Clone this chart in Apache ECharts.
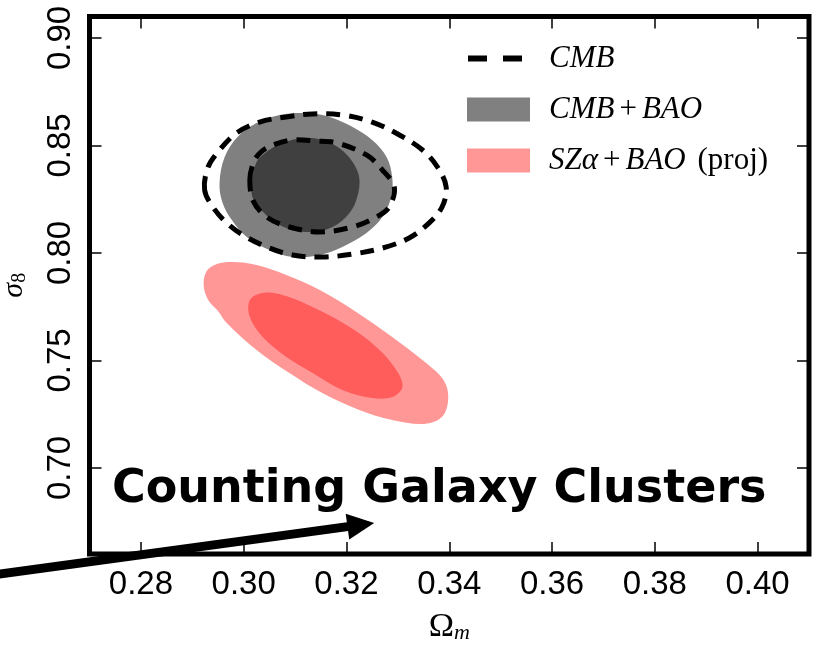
<!DOCTYPE html>
<html>
<head>
<meta charset="utf-8">
<script src="https://cdn.jsdelivr.net/npm/echarts@6/dist/echarts.min.js"></script>
<style>
  html, body { margin: 0; padding: 0; background: #ffffff; }
  #chart { width: 817px; height: 650px; }
</style>
</head>
<body>
<div id="chart"></div>
<script>
// Axis ticks
const xTicks = [0.28, 0.30, 0.32, 0.34, 0.36, 0.38, 0.40];
const yTicks = [0.70, 0.75, 0.80, 0.85, 0.90];

// Contour outlines in (Omega_m, sigma_8)
const cmbBaoOuter = [
  [0.2953, 0.8326], [0.2963, 0.8447], [0.2988, 0.8540], [0.3025, 0.8605], [0.3070, 0.8642],
  [0.3122, 0.8651], [0.3167, 0.8633], [0.3212, 0.8586], [0.3250, 0.8526], [0.3278, 0.8447],
  [0.3289, 0.8353], [0.3287, 0.8260], [0.3270, 0.8167], [0.3239, 0.8093], [0.3192, 0.8028],
  [0.3148, 0.7991], [0.3095, 0.7981], [0.3050, 0.8014], [0.3006, 0.8074], [0.2977, 0.8153],
  [0.2959, 0.8233]
];
const cmbBaoInner = [
  [0.3016, 0.8326], [0.3025, 0.8423], [0.3047, 0.8475], [0.3076, 0.8512], [0.3115, 0.8535],
  [0.3153, 0.8526], [0.3186, 0.8488], [0.3212, 0.8423], [0.3225, 0.8349], [0.3221, 0.8260],
  [0.3206, 0.8186], [0.3173, 0.8121], [0.3134, 0.8098], [0.3095, 0.8107], [0.3060, 0.8144],
  [0.3031, 0.8209], [0.3017, 0.8260]
];
const cmbOuter = [
  [0.2924, 0.8293], [0.2930, 0.8395], [0.2950, 0.8470], [0.2986, 0.8558], [0.3031, 0.8609],
  [0.3083, 0.8633], [0.3134, 0.8647], [0.3192, 0.8642], [0.3250, 0.8609], [0.3303, 0.8549],
  [0.3348, 0.8479], [0.3377, 0.8400], [0.3394, 0.8307], [0.3386, 0.8214], [0.3361, 0.8140],
  [0.3322, 0.8070], [0.3270, 0.8023], [0.3212, 0.7995], [0.3153, 0.7981], [0.3095, 0.7991],
  [0.3045, 0.8028], [0.2998, 0.8084], [0.2967, 0.8140], [0.2940, 0.8214]
];
const cmbInner = [
  [0.3012, 0.8340], [0.3020, 0.8426], [0.3035, 0.8473], [0.3060, 0.8505], [0.3095, 0.8526],
  [0.3140, 0.8521], [0.3181, 0.8512], [0.3239, 0.8456], [0.3270, 0.8386], [0.3293, 0.8307],
  [0.3283, 0.8214], [0.3258, 0.8167], [0.3212, 0.8121], [0.3148, 0.8098], [0.3089, 0.8121],
  [0.3045, 0.8167], [0.3019, 0.8240]
];
const szOuter = [
  [0.2922, 0.7851], [0.2928, 0.7916], [0.2948, 0.7949], [0.2979, 0.7958], [0.3025, 0.7944],
  [0.3083, 0.7898], [0.3148, 0.7828], [0.3219, 0.7726], [0.3289, 0.7609], [0.3355, 0.7488],
  [0.3390, 0.7405], [0.3398, 0.7320], [0.3386, 0.7238], [0.3352, 0.7205], [0.3289, 0.7223],
  [0.3225, 0.7270], [0.3153, 0.7349], [0.3089, 0.7442], [0.3025, 0.7549], [0.2967, 0.7674],
  [0.2950, 0.7730], [0.2931, 0.7781]
];
const szInner = [
  [0.3012, 0.7781], [0.3037, 0.7814], [0.3076, 0.7805], [0.3134, 0.7749], [0.3200, 0.7665],
  [0.3258, 0.7563], [0.3297, 0.7456], [0.3309, 0.7377], [0.3289, 0.7330], [0.3250, 0.7326],
  [0.3192, 0.7363], [0.3134, 0.7442], [0.3083, 0.7516], [0.3037, 0.7609], [0.3012, 0.7702]
];

// Annotation arrow (data coordinates) and caption
const arrowTail = [0.2505, 0.6500];
const arrowTip = [0.3254, 0.6744];
const caption = 'Counting Galaxy Clusters';

const seriesNames = ['CMB', 'CMB+BAO', 'SZα+BAO (proj)'];
const legendRich = {
  'CMB': '{g|}{i|CMB}',
  'CMB+BAO': '{g|}{i|CMB}{r|+}{i|BAO}',
  'SZα+BAO (proj)': '{g|}{i|SZα}{r|+}{i|BAO}{u| (proj)}'
};

function filledContour(name, pts, color) {
  return {
    type: 'custom', name: name, data: pts, encode: { x: 0, y: 1 },
    itemStyle: { color: color }, silent: true,
    renderItem: function (params, api) {
      if (params.dataIndex !== 0) return null;
      return {
        type: 'polygon',
        shape: { points: pts.map(function (p) { return api.coord(p); }), smooth: 0.35 },
        style: { fill: color, stroke: null }
      };
    }
  };
}

function dashedContour(name, pts) {
  return {
    type: 'custom', name: name, data: pts, encode: { x: 0, y: 1 },
    itemStyle: { color: '#000000' }, silent: true, z: 3,
    renderItem: function (params, api) {
      if (params.dataIndex !== 0) return null;
      return {
        type: 'polygon',
        shape: { points: pts.map(function (p) { return api.coord(p); }), smooth: 0.35 },
        style: { fill: null, stroke: '#000000', lineWidth: 5, lineDash: [14, 9], lineCap: 'butt' }
      };
    }
  };
}

const tickLabelFont = { fontFamily: 'Liberation Sans', fontSize: 33, color: '#000' };

function tickOnlyAxis(extra, ticks) {
  return Object.assign({
    type: 'value', axisLine: { show: false }, splitLine: { show: false },
    axisLabel: { show: false },
    axisTick: { show: true, inside: true, length: 12, customValues: ticks, lineStyle: { color: '#000', width: 1.5 } }
  }, extra);
}

const chart = echarts.init(document.getElementById('chart'), null, { renderer: 'canvas' });

chart.setOption({
  animation: false,
  backgroundColor: '#ffffff',
  grid: {
    left: 89.5, right: 8, top: 16.5, bottom: 96,
    outerBoundsMode: 'none', containLabel: false,
    show: true, borderColor: '#000', borderWidth: 5, backgroundColor: 'transparent'
  },
  xAxis: [
    {
      type: 'value', min: 0.27, max: 0.41, position: 'bottom',
      axisLine: { show: false }, splitLine: { show: false },
      axisTick: { show: true, inside: true, length: 12, customValues: xTicks, lineStyle: { color: '#000', width: 1.5 } },
      axisLabel: Object.assign({ margin: 14, customValues: xTicks, formatter: function (v) { return v.toFixed(2); } }, tickLabelFont),
      name: '{o|Ω}{m|m}', nameLocation: 'middle', nameGap: 56,
      nameTextStyle: {
        rich: {
          o: { fontFamily: 'Liberation Serif', fontSize: 34, lineHeight: 34, color: '#000' },
          m: { fontFamily: 'Liberation Serif', fontStyle: 'italic', fontSize: 22, lineHeight: 14, verticalAlign: 'bottom', color: '#000' }
        }
      }
    },
    tickOnlyAxis({ min: 0.27, max: 0.41, position: 'top' }, xTicks)
  ],
  yAxis: [
    {
      type: 'value', min: 0.66, max: 0.91, position: 'left',
      axisLine: { show: false }, splitLine: { show: false },
      axisTick: { show: true, inside: true, length: 12, customValues: yTicks, lineStyle: { color: '#000', width: 1.5 } },
      axisLabel: Object.assign({ margin: 12, rotate: 90, customValues: yTicks, formatter: function (v) { return v.toFixed(2); } }, tickLabelFont),
      name: '{s|σ}{n|8}', nameLocation: 'middle', nameRotate: 90, nameGap: 60,
      nameTextStyle: {
        rich: {
          s: { fontFamily: 'Liberation Serif', fontStyle: 'italic', fontSize: 30, lineHeight: 30, color: '#000' },
          n: { fontFamily: 'Liberation Serif', fontSize: 20, lineHeight: 12, verticalAlign: 'bottom', color: '#000' }
        }
      }
    },
    tickOnlyAxis({ min: 0.66, max: 0.91, position: 'right' }, yTicks)
  ],
  legend: {
    orient: 'vertical', left: 467, top: 43, padding: 0,
    itemWidth: 63, itemHeight: 24, itemGap: 20, selectedMode: false,
    data: [
      { name: seriesNames[0], icon: 'path://M0,0L0,0M63,24L63,24M1,9h19v6h-19zM36,9h19v6h-19z' },
      { name: seriesNames[1], icon: 'rect' },
      { name: seriesNames[2], icon: 'rect' }
    ],
    formatter: function (name) { return legendRich[name]; },
    textStyle: {
      color: '#000',
      rich: {
        g: { width: 14 },
        i: { fontFamily: 'Liberation Serif', fontStyle: 'italic', fontSize: 31, color: '#000' },
        r: { fontFamily: 'Liberation Serif', fontSize: 31, color: '#000', padding: [0, 5, 0, 5] },
        u: { fontFamily: 'Liberation Serif', fontSize: 31, color: '#000', padding: [0, 0, 0, 4] }
      }
    }
  },
  series: [
    filledContour(seriesNames[1], cmbBaoOuter, '#808080'),
    filledContour(seriesNames[1], cmbBaoInner, '#404040'),
    filledContour(seriesNames[2], szOuter, '#ff9797'),
    filledContour(seriesNames[2], szInner, '#ff5c5c'),
    dashedContour(seriesNames[0], cmbOuter),
    dashedContour(seriesNames[0], cmbInner)
  ]
});

// Caption and arrow placed from data coordinates
const tail = chart.convertToPixel({ gridIndex: 0 }, arrowTail);
const tip = chart.convertToPixel({ gridIndex: 0 }, arrowTip);
const dx = tip[0] - tail[0], dy = tip[1] - tail[1];
const len = Math.sqrt(dx * dx + dy * dy);
const ux = dx / len, uy = dy / len;
const headLen = 27, headHalf = 13;
const base = [tip[0] - ux * headLen, tip[1] - uy * headLen];

chart.setOption({
  graphic: [
    {
      type: 'text', x: 112, y: 490, z: 100,
      style: { text: caption, font: 'bold 46px "DejaVu Sans"', fill: '#000', align: 'left', verticalAlign: 'middle' }
    },
    {
      type: 'polyline', z: 100,
      shape: { points: [tail, [base[0] + ux * 2, base[1] + uy * 2]] },
      style: { stroke: '#000', lineWidth: 9, fill: null }
    },
    {
      type: 'polygon', z: 100,
      shape: { points: [tip, [base[0] - uy * headHalf, base[1] + ux * headHalf], [base[0] + uy * headHalf, base[1] - ux * headHalf]] },
      style: { fill: '#000', stroke: null }
    }
  ]
});
</script>
</body>
</html>
